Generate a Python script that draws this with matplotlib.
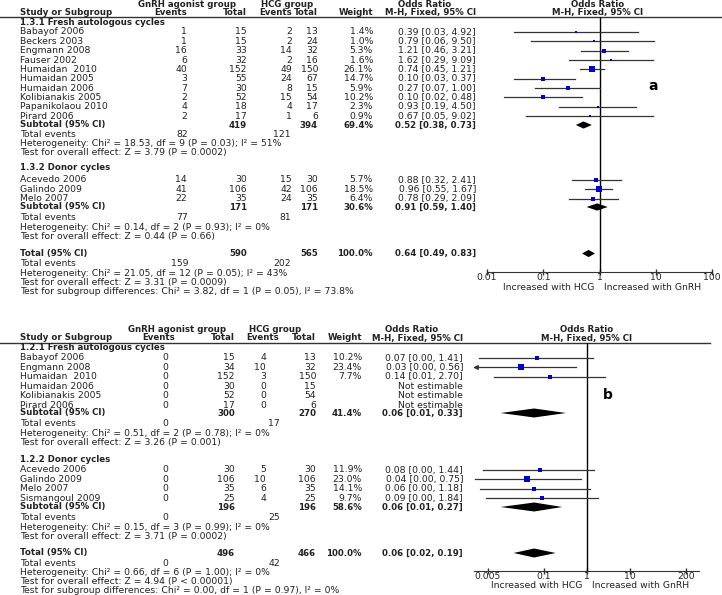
import matplotlib.pyplot as plt
from matplotlib.ticker import NullLocator

W, H = 722, 595
plt.rcParams['font.family'] = ['DejaVu Sans']

# ---------------- panel a ----------------
a_sections = ["1.3.1 Fresh autologous cycles", "1.3.2 Donor cycles"]
a_study = ["Babayof 2006", "Beckers 2003", "Engmann 2008", "Fauser 2002", "Humaidan  2010",
           "Humaidan 2005", "Humaidan 2006", "Kolibianakis 2005", "Papanikolaou 2010", "Pirard 2006",
           "Acevedo 2006", "Galindo 2009", "Melo 2007"]
a_group = [0, 0, 0, 0, 0, 0, 0, 0, 0, 0, 1, 1, 1]
a_gnrh_ev = [1, 1, 16, 6, 40, 3, 7, 2, 4, 2, 14, 41, 22]
a_gnrh_n = [15, 15, 33, 32, 152, 55, 30, 52, 18, 17, 30, 106, 35]
a_hcg_ev = [2, 2, 14, 2, 49, 24, 8, 15, 4, 1, 15, 42, 24]
a_hcg_n = [13, 24, 32, 16, 150, 67, 15, 54, 17, 6, 30, 106, 35]
a_weight = [1.4, 1.0, 5.3, 1.6, 26.1, 14.7, 5.9, 10.2, 2.3, 0.9, 5.7, 18.5, 6.4]
a_or = [0.39, 0.79, 1.21, 1.62, 0.74, 0.10, 0.27, 0.10, 0.93, 0.67, 0.88, 0.96, 0.78]
a_lo = [0.03, 0.06, 0.46, 0.29, 0.45, 0.03, 0.07, 0.02, 0.19, 0.05, 0.32, 0.55, 0.29]
a_hi = [4.92, 9.50, 3.21, 9.09, 1.21, 0.37, 1.00, 0.48, 4.50, 9.02, 2.41, 1.67, 2.09]
a_sub_gnrh_n = [419, 171]
a_sub_hcg_n = [394, 171]
a_sub_weight = [69.4, 30.6]
a_sub_or = [0.52, 0.91]
a_sub_lo = [0.38, 0.59]
a_sub_hi = [0.73, 1.40]
a_sub_gnrh_ev = [82, 77]
a_sub_hcg_ev = [121, 81]
a_sub_het = ["Heterogeneity: Chi² = 18.53, df = 9 (P = 0.03); I² = 51%",
             "Heterogeneity: Chi² = 0.14, df = 2 (P = 0.93); I² = 0%"]
a_sub_z = ["Test for overall effect: Z = 3.79 (P = 0.0002)",
           "Test for overall effect: Z = 0.44 (P = 0.66)"]
a_tot = dict(gn=590, hn=565, w=100.0, est=0.64, lo=0.49, hi=0.83, gev=159, hev=202)
a_tot_text = ["Heterogeneity: Chi² = 21.05, df = 12 (P = 0.05); I² = 43%",
              "Test for overall effect: Z = 3.31 (P = 0.0009)",
              "Test for subgroup differences: Chi² = 3.82, df = 1 (P = 0.05), I² = 73.8%"]
a_ticks = [0.01, 0.1, 1, 10, 100]
a_ticklabels = ["0.01", "0.1", "1", "10", "100"]

# ---------------- panel b ----------------
b_sections = ["1.2.1 Fresh autologous cycles", "1.2.2 Donor cycles"]
b_study = ["Babayof 2006", "Engmann 2008", "Humaidan  2010", "Humaidan 2006", "Kolibianakis 2005",
           "Pirard 2006", "Acevedo 2006", "Galindo 2009", "Melo 2007", "Sismangoul 2009"]
b_group = [0, 0, 0, 0, 0, 0, 1, 1, 1, 1]
b_gnrh_ev = [0, 0, 0, 0, 0, 0, 0, 0, 0, 0]
b_gnrh_n = [15, 34, 152, 30, 52, 17, 30, 106, 35, 25]
b_hcg_ev = [4, 10, 3, 0, 0, 0, 5, 10, 6, 4]
b_hcg_n = [13, 32, 150, 15, 54, 6, 30, 106, 35, 25]
b_weight = [10.2, 23.4, 7.7, None, None, None, 11.9, 23.0, 14.1, 9.7]
b_or = [0.07, 0.03, 0.14, None, None, None, 0.08, 0.04, 0.06, 0.09]
b_lo = [0.0032, 0.0015, 0.0069, None, None, None, 0.0040, 0.0025, 0.0034, 0.0047]
b_hi = [1.41, 0.56, 2.70, None, None, None, 1.44, 0.75, 1.18, 1.84]
b_sub_gnrh_n = [300, 196]
b_sub_hcg_n = [270, 196]
b_sub_weight = [41.4, 58.6]
b_sub_or = [0.06, 0.06]
b_sub_lo = [0.01, 0.01]
b_sub_hi = [0.33, 0.27]
b_sub_gnrh_ev = [0, 0]
b_sub_hcg_ev = [17, 25]
b_sub_het = ["Heterogeneity: Chi² = 0.51, df = 2 (P = 0.78); I² = 0%",
             "Heterogeneity: Chi² = 0.15, df = 3 (P = 0.99); I² = 0%"]
b_sub_z = ["Test for overall effect: Z = 3.26 (P = 0.001)",
           "Test for overall effect: Z = 3.71 (P = 0.0002)"]
b_tot = dict(gn=496, hn=466, w=100.0, est=0.06, lo=0.02, hi=0.19, gev=0, hev=42)
b_tot_text = ["Heterogeneity: Chi² = 0.66, df = 6 (P = 1.00); I² = 0%",
              "Test for overall effect: Z = 4.94 (P < 0.00001)",
              "Test for subgroup differences: Chi² = 0.00, df = 1 (P = 0.97), I² = 0%"]
b_ticks = [0.005, 0.1, 1, 10, 200]
b_ticklabels = ["0.005", "0.1", "1", "10", "200"]

TXT = '#222222'
FS = 6.7
FSB = 6.2

fig = plt.figure(figsize=(W / 100, H / 100), dpi=100)
bg = fig.add_axes([0, 0, 1, 1])
bg.set_xlim(0, W)
bg.set_ylim(H, 0)
bg.axis('off')


def txt(x, y, s, ha='left', bold=False, size=None):
    bg.text(x, y, s, ha=ha, va='center', color=TXT,
            fontsize=size or (FSB if bold else FS),
            fontweight='bold' if bold else 'normal')


def ci_str(est, lo, hi):
    return f"{est:.2f} [{lo:.2f}, {hi:.2f}]"


def draw_panel(d, lay):
    c = lay['cols']
    # header
    txt(c['gg'], lay['h1'], "GnRH agonist group", ha='center', bold=True)
    txt(c['hg'], lay['h1'], "HCG group", ha='center', bold=True)
    txt(c['orc'], lay['h1'], "Odds Ratio", ha='center', bold=True)
    txt(c['plc'], lay['h1'], "Odds Ratio", ha='center', bold=True)
    txt(c['name'], lay['h2'], "Study or Subgroup", bold=True)
    txt(c['gevh'], lay['h2'], "Events", ha='right', bold=True)
    txt(c['gn'], lay['h2'], "Total", ha='right', bold=True)
    txt(c['hevh'], lay['h2'], "Events", ha='right', bold=True)
    txt(c['hn'], lay['h2'], "Total", ha='right', bold=True)
    txt(c['w'], lay['h2'], "Weight", ha='right', bold=True)
    txt(c['or'], lay['h2'], "M-H, Fixed, 95% CI", ha='right', bold=True)
    txt(c['plc'], lay['h2'], "M-H, Fixed, 95% CI", ha='center', bold=True)
    bg.plot([0, lay['line_end']], [lay['line'], lay['line']], color='#333', lw=1)

    # forest axes
    x0, x1 = lay['ax_x']
    y0, y1 = lay['line'], lay['axis_y']
    ax = fig.add_axes([x0 / W, 1 - y1 / H, (x1 - x0) / W, (y1 - y0) / H])
    ax.set_xscale('log')
    ax.set_xlim(*lay['xlim'])
    ax.set_ylim(y1, y0)
    ax.patch.set_alpha(0)
    for s in ['top', 'left', 'right']:
        ax.spines[s].set_visible(False)
    ax.spines['bottom'].set_color('#333')
    ax.set_yticks([])
    ax.xaxis.set_minor_locator(NullLocator())
    ax.set_xticks(d['ticks'])
    ax.set_xticklabels(d['ticklabels'])
    ax.tick_params(axis='x', direction='inout', length=5, width=1, color='#333',
                   labelsize=FS, labelcolor=TXT, pad=-1.5)
    ax.axvline(1, color='black', lw=1)

    for g in range(2):
        txt(c['name'], lay['sec'][g], d['sections'][g], bold=True)
        idx = [i for i, gg in enumerate(d['group']) if gg == g]
        for k, i in enumerate(idx):
            y = lay['first'][g] + k * lay['step']
            txt(c['name'], y, d['study'][i])
            txt(c['gev'], y, str(d['gev'][i]), ha='right')
            txt(c['gn'], y, str(d['gn'][i]), ha='right')
            txt(c['hev'], y, str(d['hev'][i]), ha='right')
            txt(c['hn'], y, str(d['hn'][i]), ha='right')
            if d['w'][i] is None:
                txt(c['or'], y, "Not estimable", ha='right')
                continue
            txt(c['w'], y, f"{d['w'][i]:.1f}%", ha='right')
            txt(c['or'], y, ci_str(d['est'][i], d['lo'][i], d['hi'][i]), ha='right')
            ax.plot([d['lo'][i], d['hi'][i]], [y, y], color='#333', lw=0.9)
            if d['lo'][i] < lay['xlim'][0]:
                ax.plot([lay['xlim'][0] * 1.12], [y], marker='<', ms=2.6, color='#333',
                        clip_on=False)
            side = (1.4 + 0.85 * d['w'][i] ** 0.5) * 0.72
            ax.plot([d['est'][i]], [y], marker='s', ms=side, color='#0000cc', mew=0, zorder=3)
        ys = lay['sub'][g]
        txt(c['name'], ys, "Subtotal (95% CI)", bold=True)
        txt(c['gn'], ys, str(d['sub_gn'][g]), ha='right', bold=True)
        txt(c['hn'], ys, str(d['sub_hn'][g]), ha='right', bold=True)
        txt(c['w'], ys, f"{d['sub_w'][g]:.1f}%", ha='right', bold=True)
        txt(c['or'], ys, ci_str(d['sub_est'][g], d['sub_lo'][g], d['sub_hi'][g]), ha='right', bold=True)
        hh = lay['dh']
        ax.fill([d['sub_lo'][g], d['sub_est'][g], d['sub_hi'][g], d['sub_est'][g]],
                [ys, ys - hh, ys, ys + hh], color='black', lw=0, zorder=3)
        s1, s2, s3 = lay['stats'][g]
        txt(c['name'], s1, "Total events")
        txt(c['tgev'], s1, str(d['sub_gev'][g]), ha='right')
        txt(c['thev'], s1, str(d['sub_hev'][g]), ha='right')
        txt(c['name'], s2, d['sub_het'][g])
        txt(c['name'], s3, d['sub_z'][g])

    t = d['tot']
    yt = lay['total']
    txt(c['name'], yt, "Total (95% CI)", bold=True)
    txt(c['gn'], yt, str(t['gn']), ha='right', bold=True)
    txt(c['hn'], yt, str(t['hn']), ha='right', bold=True)
    txt(c['w'], yt, f"{t['w']:.1f}%", ha='right', bold=True)
    txt(c['or'], yt, ci_str(t['est'], t['lo'], t['hi']), ha='right', bold=True)
    hh = lay['dh']
    ax.fill([t['lo'], t['est'], t['hi'], t['est']], [yt, yt - hh, yt, yt + hh],
            color='black', lw=0, zorder=3)
    r = lay['tstats']
    txt(c['name'], r[0], "Total events")
    txt(c['tgev'], r[0], str(t['gev']), ha='right')
    txt(c['thev'], r[0], str(t['hev']), ha='right')
    for k in range(3):
        txt(c['name'], r[k + 1], d['tot_text'][k])

    txt(lay['one_px'] - 5, lay['inc_y'], "Increased with HCG", ha='right')
    txt(lay['one_px'] + 5, lay['inc_y'], "Increased with GnRH", ha='left')
    bg.text(lay['tag'][0], lay['tag'][1], lay['tag'][2], ha='center', va='center',
            fontsize=10, fontweight='bold', color='black')


panel_a = dict(sections=a_sections, study=a_study, group=a_group, gev=a_gnrh_ev, gn=a_gnrh_n,
               hev=a_hcg_ev, hn=a_hcg_n, w=a_weight, est=a_or, lo=a_lo, hi=a_hi,
               sub_gn=a_sub_gnrh_n, sub_hn=a_sub_hcg_n, sub_w=a_sub_weight, sub_est=a_sub_or,
               sub_lo=a_sub_lo, sub_hi=a_sub_hi, sub_gev=a_sub_gnrh_ev, sub_hev=a_sub_hcg_ev,
               sub_het=a_sub_het, sub_z=a_sub_z, tot=a_tot, tot_text=a_tot_text,
               ticks=a_ticks, ticklabels=a_ticklabels)
panel_b = dict(sections=b_sections, study=b_study, group=b_group, gev=b_gnrh_ev, gn=b_gnrh_n,
               hev=b_hcg_ev, hn=b_hcg_n, w=b_weight, est=b_or, lo=b_lo, hi=b_hi,
               sub_gn=b_sub_gnrh_n, sub_hn=b_sub_hcg_n, sub_w=b_sub_weight, sub_est=b_sub_or,
               sub_lo=b_sub_lo, sub_hi=b_sub_hi, sub_gev=b_sub_gnrh_ev, sub_hev=b_sub_hcg_ev,
               sub_het=b_sub_het, sub_z=b_sub_z, tot=b_tot, tot_text=b_tot_text,
               ticks=b_ticks, ticklabels=b_ticklabels)

lay_a = dict(
    cols=dict(name=20, gev=187, gevh=187, gn=247, hev=292, hevh=292, hn=318, w=373, or_=0,
              tgev=188, thev=291, gg=187, hg=287, orc=425, plc=598),
    h1=4.5, h2=12.5, line=17, line_end=722,
    sec=[22.5, 167], first=[32, 180], step=9.35, sub=[125, 207],
    stats=[[134.5, 143.5, 152.5], [218, 227, 236]],
    total=253.5, tstats=[264, 273, 282, 291],
    ax_x=(487, 712), axis_y=272, xlim=(0.01, 100), dh=3.6,
    one_px=599, inc_y=287.5, tag=(653, 86, 'a'))
lay_a['cols']['or'] = 476

lay_b = dict(
    cols=dict(name=20, gev=168, gevh=175, gn=235, hev=266, hevh=279, hn=316, w=362,
              tgev=168, thev=280, gg=177, hg=275, orc=412, plc=587),
    h1=329, h2=338, line=342.5, line_end=710,
    sec=[348, 459], first=[358, 470], step=9.45, sub=[413, 507],
    stats=[[424, 433, 442.5], [517, 527, 536]],
    total=553, tstats=[563.5, 572.5, 581.5, 590.5],
    ax_x=(474, 699.5), axis_y=571, xlim=(1 / 415, 415), dh=4.5,
    one_px=587, inc_y=586, tag=(608, 395, 'b'))
lay_b['cols']['or'] = 463

draw_panel(panel_a, lay_a)
draw_panel(panel_b, lay_b)

fig.savefig('out.png', dpi=100, facecolor='white')
